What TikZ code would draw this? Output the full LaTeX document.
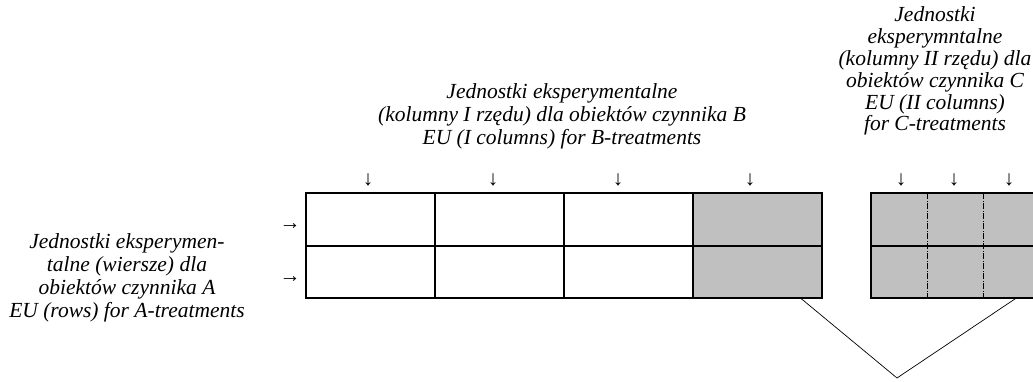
\documentclass[tikz,border=0pt]{standalone}
\usepackage{fontspec}
\setmainfont{Liberation Serif}
\usetikzlibrary{calc}
\definecolor{cellgray}{RGB}{192,192,192}
\tikzset{
  cell/.style={draw=black,line width=2pt,minimum width=129.1pt,minimum height=52.5pt,
    inner sep=0pt,outer sep=0pt},
  subrow/.style={cell,fill=cellgray,minimum width=168pt},
  divider/.style={line width=0.9pt,dash pattern=on 6pt off 1.5pt on 1pt off 1.5pt},
  link/.style={line width=0.7pt,draw=black},
  caption/.style={align=center,font=\fontsize{21.5}{23}\selectfont\itshape,inner sep=0pt},
  unitarrow/.style={font=\fontsize{21}{21}\selectfont,inner sep=0pt}
}
\begin{document}
\begin{tikzpicture}[x=1pt,y=1pt]
  \useasboundingbox (0,0) rectangle (1033,381);
  \clip (0,0) rectangle (1033,381);
  % captions
  \node[caption] (capA) at (127,103) {Jednostki eksperymen-\\talne (wiersze) dla\\obiektów czynnika A\\EU (rows) for A-treatments};
  \node[caption] (capB) at (562,265) {Jednostki eksperymentalne\\(kolumny I rzędu) dla obiektów czynnika B\\EU (I columns) for B-treatments};
  \node[caption,font=\fontsize{21.5}{21.9}\selectfont\itshape] (capC) at (935,310) {Jednostki\\eksperymntalne\\(kolumny II rzędu) dla\\obiektów czynnika C\\EU (II columns)\\for C-treatments};
  % main grid (I columns)
  \foreach \i/\f in {1/white,2/white,3/white,4/cellgray} {
    \node[cell,fill=\f] (t\i) at ({305.5+129.1*(\i-0.5)},161.5) {};
    \node[cell,fill=\f] (u\i) at ({305.5+129.1*(\i-0.5)},109) {};
  }
  % second grid (II columns)
  \node[subrow] (r1) at (955,161.5) {};
  \node[subrow] (r2) at (955,109) {};
  \draw[divider] ($(r1.north west)!1/3!(r1.north east)$) -- ($(r2.south west)!1/3!(r2.south east)$);
  \draw[divider] ($(r1.north west)!2/3!(r1.north east)$) -- ($(r2.south west)!2/3!(r2.south east)$);
  % arrows marking units
  \foreach \x [count=\k] in {368,493,618,750,901,954,1009}
    \node[unitarrow] (d\k) at (\x,201) {↓};
  \node[unitarrow] (a1) at (290,154) {→};
  \node[unitarrow] (a2) at (290,101) {→};
  % bracket joining shaded parts
  \coordinate (apex) at (897,3);
  \draw[link] ($(u4.south west)!0.836!(u4.south east)$) -- (apex)
    -- ($(r2.south west)!0.863!(r2.south east)$);
\end{tikzpicture}
\end{document}
